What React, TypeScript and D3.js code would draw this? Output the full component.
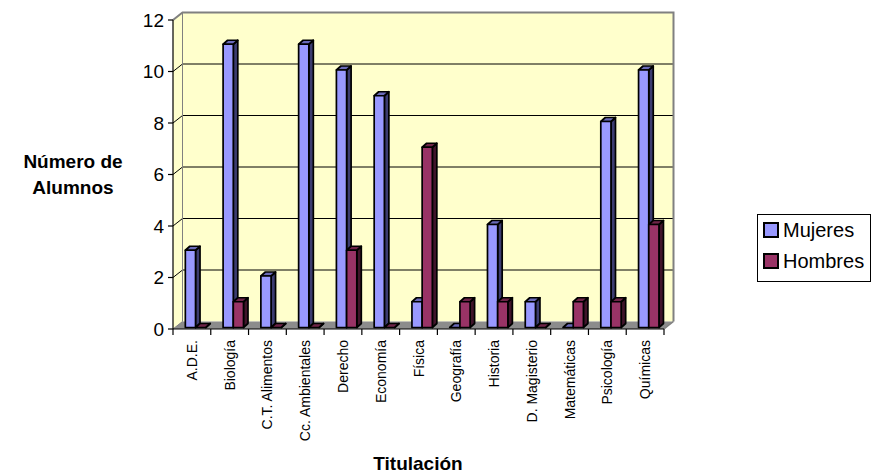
import React from "react";
import * as d3 from "d3";

const categories = [
  "A.D.E.", "Biología", "C.T. Alimentos", "Cc. Ambientales", "Derecho", "Economía",
  "Física", "Geografía", "Historia", "D. Magisterio", "Matemáticas", "Psicología", "Químicas",
];
const mujeres = [3, 11, 2, 11, 10, 9, 1, 0, 4, 1, 0, 8, 10];
const hombres = [0, 1, 0, 0, 3, 0, 7, 1, 1, 0, 1, 1, 4];
const yTicks = [0, 2, 4, 6, 8, 10, 12];
const seriesNames = ["Mujeres", "Hombres"];

const W = 873;
const H = 475;
const X0 = 173;
const X1 = 664;
const Y0 = 329;
const Y1 = 20;
const DX = 9.5;
const DY = -7.5;
const BDX = 4.5;
const BDY = -4;
const FONT = "'Liberation Sans', Arial, sans-serif";

const colors = {
  Mujeres: { front: "#9999FF", top: "#6a6ab8", side: "#3c3c70" },
  Hombres: { front: "#993366", top: "#6e2448", side: "#40142a" },
};

export default function App() {
  const x = d3.scaleBand<string>().domain(categories).range([X0, X1]).paddingInner(0).paddingOuter(0);
  const y = d3.scaleLinear().domain([0, 12]).range([Y0, Y1]);
  const bw = x.bandwidth();
  const barW = bw * 0.27;
  const barOff = bw * 0.3;

  const pts = (arr: number[][]) => arr.map((p) => p.join(",")).join(" ");

  const bar = (key: string, x0: number, v: number, c: { front: string; top: string; side: string }) => {
    const ox = 1;
    const oy = -1.5;
    const xl = x0 + ox;
    const xr = xl + barW;
    const yt = y(v) + oy;
    const yb = y(0) + oy;
    return (
      <g key={key} stroke="#000" strokeWidth={1.7} strokeLinejoin="round">
        <polygon points={pts([[xr, yt], [xr + BDX, yt + BDY], [xr + BDX, yb + BDY], [xr, yb]])} fill={c.side} />
        <polygon points={pts([[xl, yt], [xr, yt], [xr + BDX, yt + BDY], [xl + BDX, yt + BDY]])} fill={c.top} />
        {v > 0 && <rect x={xl} y={yt} width={barW} height={yb - yt} fill={c.front} />}
      </g>
    );
  };

  return (
    <svg width={W} height={H} style={{ position: "absolute", left: 0, top: 0, background: "#fff" }} fontFamily={FONT}>
      {/* left wall */}
      <polygon points={pts([[X0, Y0], [X0, Y1], [X0 + DX, Y1 + DY], [X0 + DX, Y0 + DY]])} fill="#FFFFCC" />
      {/* back wall */}
      <rect x={X0 + DX} y={Y1 + DY} width={X1 - X0} height={Y0 - Y1} fill="#FFFFCC" />
      {/* floor */}
      <polygon points={pts([[X0, Y0], [X1, Y0], [X1 + DX, Y0 + DY], [X0 + DX, Y0 + DY]])} fill="#8c8c8c" />
      {/* gridlines */}
      {yTicks.filter((t) => t > 0 && t < 12).map((t) => (
        <g key={t} stroke="#000" strokeWidth={1}>
          <line x1={X0} y1={y(t)} x2={X0 + DX} y2={y(t) + DY} />
          <line x1={X0 + DX} y1={y(t) + DY} x2={X1 + DX} y2={y(t) + DY} />
        </g>
      ))}
      {/* wall borders */}
      <polyline
        points={pts([[X0, Y1], [X0 + DX, Y1 + DY], [X1 + DX, Y1 + DY], [X1 + DX, Y0 + DY]])}
        fill="none" stroke="#808080" strokeWidth={2}
      />
      <line x1={X0 + DX} y1={Y1 + DY} x2={X0 + DX} y2={Y0 + DY} stroke="#808080" strokeWidth={1} />
      <line x1={X1} y1={Y0} x2={X1 + DX} y2={Y0 + DY} stroke="#808080" strokeWidth={1.5} />
      <line x1={X0} y1={Y0} x2={X0 + DX} y2={Y0 + DY} stroke="#808080" strokeWidth={1} />
      {/* bars */}
      {categories.map((cat, i) => {
        const cx = (x(cat) as number) + barOff;
        return (
          <g key={cat}>
            {bar("m", cx, mujeres[i], colors.Mujeres)}
            {bar("h", cx + barW, hombres[i], colors.Hombres)}
          </g>
        );
      })}
      {/* axes */}
      <line x1={X0} y1={Y1} x2={X0} y2={Y0} stroke="#000" strokeWidth={1.2} />
      <line x1={X0} y1={Y0} x2={X1} y2={Y0} stroke="#000" strokeWidth={1.2} />
      {yTicks.map((t) => (
        <g key={t}>
          <line x1={X0 - 5} y1={y(t)} x2={X0} y2={y(t)} stroke="#000" strokeWidth={1.2} />
          <text x={X0 - 9} y={y(t)} dy="0.36em" textAnchor="end" fontSize={19} fill="#000">{t}</text>
        </g>
      ))}
      {[...categories.map((c) => x(c) as number), X1].map((v, i) => (
        <line key={i} x1={v} y1={Y0} x2={v} y2={Y0 + 6} stroke="#000" strokeWidth={1.2} />
      ))}
      {categories.map((c) => {
        const cx = (x(c) as number) + bw / 2;
        return (
          <text key={c} transform={`translate(${cx},${340}) rotate(-90)`} dy="0.36em" textAnchor="end" fontSize={14} fill="#000">
            {c}
          </text>
        );
      })}
      {/* axis titles */}
      <text x={73} y={168} textAnchor="middle" fontSize={19} fontWeight="bold">Número de</text>
      <text x={73} y={194} textAnchor="middle" fontSize={19} fontWeight="bold">Alumnos</text>
      <text x={418} y={470} textAnchor="middle" fontSize={19} fontWeight="bold">Titulación</text>
      {/* legend */}
      <rect x={757.5} y={214.5} width={113} height={67} fill="#fff" stroke="#000" strokeWidth={1} />
      {seriesNames.map((s, i) => {
        const c = (colors as any)[s];
        const ly = 230 + i * 31;
        return (
          <g key={s}>
            <rect x={764} y={ly - 7} width={14} height={14} fill={c.front} stroke="#000" strokeWidth={2} />
            <text x={783} y={ly} dy="0.36em" fontSize={20} fill="#000">{s}</text>
          </g>
        );
      })}
    </svg>
  );
}
